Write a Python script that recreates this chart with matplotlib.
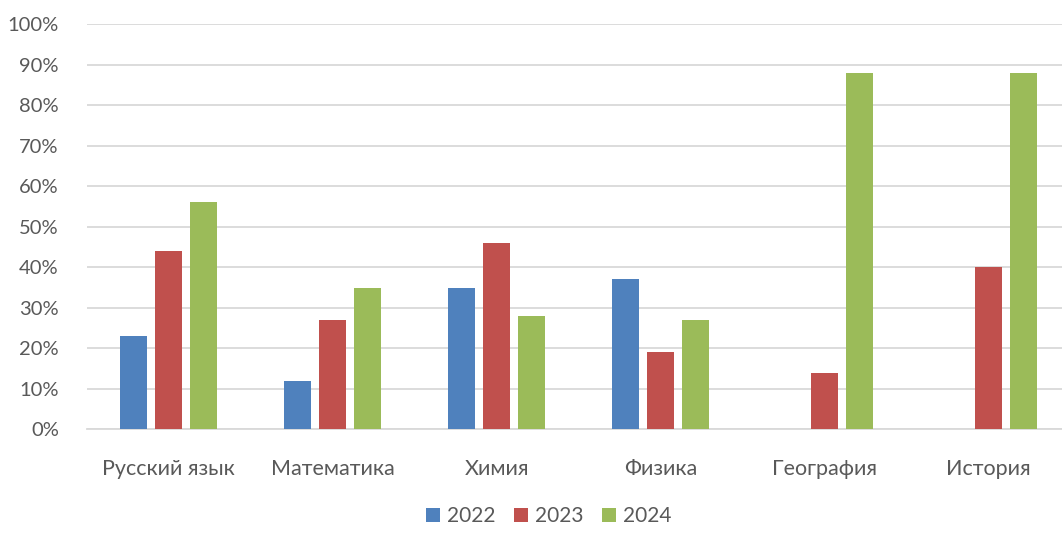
import numpy as np
import matplotlib
matplotlib.use('Agg')
from matplotlib import pyplot as plt
from matplotlib.ticker import PercentFormatter

subjects = ["Русский язык", "Математика", "Химия", "Физика", "География", "История"]
years = ["2022", "2023", "2024"]
v2022 = [23, 12, 35, 37, 0, 0]
v2023 = [44, 27, 46, 19, 14, 40]
v2024 = [56, 35, 28, 27, 88, 88]
colors = ["#4f81bd", "#c0504d", "#9bbb59"]

plt.rcParams['font.family'] = ['Lato', 'DejaVu Sans']
text_color = "#595959"

fig = plt.figure(figsize=(10.62, 5.45), dpi=100)
ax = fig.add_axes([0.0815, 0.212, 0.9266, 0.744])

x = np.arange(len(subjects))
width = 0.165
step = 0.213
series = [v2022, v2023, v2024]
for i, vals in enumerate(series):
    ax.bar(x + (i - 1) * step, vals, width, color=colors[i], label=years[i], zorder=3)

ax.set_xlim(-0.5, len(subjects) - 0.5)
ax.set_ylim(0, 100)
ax.set_yticks(np.arange(0, 101, 10))
ax.yaxis.set_major_formatter(PercentFormatter(decimals=0))
ax.set_xticks(x)
ax.set_xticklabels(subjects)
ax.grid(axis='y', color="#d9d9d9", linewidth=1.3, zorder=0)
for s in ['top', 'right', 'left']:
    ax.spines[s].set_visible(False)
ax.spines['bottom'].set_color("#d9d9d9")
ax.spines['bottom'].set_linewidth(1.3)
ax.tick_params(axis='both', length=0, colors=text_color)
ax.tick_params(axis='x', pad=21, labelsize=15.5)
ax.tick_params(axis='y', pad=20, labelsize=14.5)

leg = fig.legend(loc='center', bbox_to_anchor=(549 / 1062, 1 - 516 / 545), ncol=3,
                 frameon=False, fontsize=15, handlelength=0.65, handleheight=0.65,
                 handletextpad=0.35, columnspacing=0.9)
for t in leg.get_texts():
    t.set_color(text_color)

plt.savefig("out.png", dpi=100)
